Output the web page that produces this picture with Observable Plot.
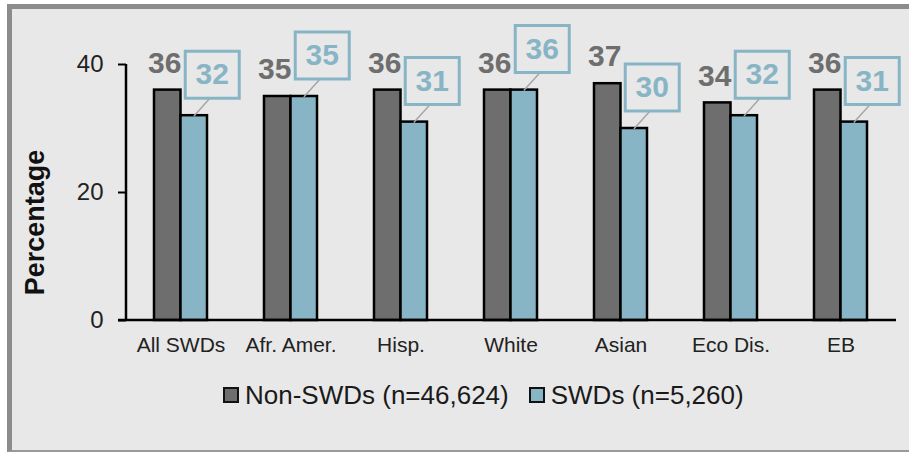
<!DOCTYPE html>
<html>
<head>
<meta charset="utf-8">
<script src="https://cdn.jsdelivr.net/npm/d3@7"></script>
<script src="https://cdn.jsdelivr.net/npm/@observablehq/plot@0.6"></script>
<style>
  html, body { margin: 0; padding: 0; background: #ffffff; }
  #wrap { position: relative; width: 909px; height: 456px; overflow: hidden; font-family: "Liberation Sans", Arial, sans-serif; }
  #frame { position: absolute; left: 7px; top: 4px; width: 920px; height: 441px; background: #e8e8e8;
           border-left: 5px solid #8c8c8c; border-top: 5px solid #8c8c8c; border-bottom: 2px solid #9a9a9a; }
  #chart { position: absolute; left: 0; top: 0; }
  #legend { position: absolute; left: 223px; top: 380px; height: 30px; font-size: 26px; color: #1a1a1a; display: flex; align-items: center; white-space: nowrap; }
  .sw { display: inline-block; box-sizing: border-box; width: 16px; height: 16px; border: 2px solid #111; margin-right: 6px; }
  .item { display: flex; align-items: center; margin-right: 20px; }
</style>
</head>
<body>
<div id="wrap">
  <div id="frame"></div>
  <div id="chart"></div>
  <div id="legend"></div>
</div>
<script>
const categories = ["All SWDs", "Afr. Amer.", "Hisp.", "White", "Asian", "Eco Dis.", "EB"];
const nonSWDs = [36, 35, 36, 36, 37, 34, 36];
const swds = [32, 35, 31, 36, 30, 32, 31];
const yTicks = [0, 20, 40];
const seriesNames = ["Non-SWDs (n=46,624)", "SWDs (n=5,260)"];
const seriesColors = ["#6e6e6e", "#88b5c6"];

const rows = categories.map((c, i) => ({cat: c, non: nonSWDs[i], swd: swds[i]}));

const boxSymbol = { draw(context) { context.rect(-27, -23.5, 54, 47); } };
const lineShape = { draw(context, l) { context.moveTo(0, 0); context.lineTo(0, -l); } };

const FONT = "Liberation Sans, Arial, sans-serif";
const half = 13.25;

const chart = Plot.plot({
  width: 909,
  height: 365,
  marginLeft: 126,
  marginRight: 13,
  marginTop: 64,
  marginBottom: 45,
  style: { background: "transparent", fontFamily: FONT, overflow: "visible" },
  x: { domain: categories, paddingInner: 0.518, paddingOuter: 0.259, label: null },
  y: { domain: [0, 40], label: null },
  marks: [
    Plot.axisY({ ticks: yTicks, tickSize: 8, tickPadding: 15, fontSize: 24, fill: "#222", stroke: "#000", strokeWidth: 2, label: null }),
    Plot.axisX({ tickSize: 0, tickPadding: 17, fontSize: 21, fill: "#222", label: null }),
    Plot.barY(rows, { x: "cat", y: "non", fill: seriesColors[0], stroke: "#000", strokeWidth: 2.5, insetRight: 26.5 }),
    Plot.barY(rows, { x: "cat", y: "swd", fill: seriesColors[1], stroke: "#000", strokeWidth: 2.5, insetLeft: 26.5 }),
    Plot.text(rows, { x: "cat", y: "non", text: d => String(d.non), dx: -half - 3, dy: -27, fontSize: 30, fontWeight: "bold", fill: "#6e6e6e" }),
    Plot.vector(rows, { x: "cat", y: "swd", dx: half, length: 23, rotate: 42, anchor: "start", shape: lineShape, stroke: "#a6a6a6", strokeWidth: 1.5 }),
    Plot.dot(rows, { x: "cat", y: "swd", dx: half + 18, dy: -41, symbol: boxSymbol, fill: "none", stroke: "#88b5c6", strokeWidth: 3 }),
    Plot.text(rows, { x: "cat", y: "swd", text: d => String(d.swd), dx: half + 18, dy: -41, fontSize: 30, fontWeight: "bold", fill: "#88b5c6" }),
    Plot.text(["Percentage"], { frameAnchor: "left", textAnchor: "middle", rotate: -90, dx: -91, dy: 30, fontSize: 27, fontWeight: "bold", fill: "#111" })
  ]
});
document.getElementById("chart").appendChild(chart);

// axis lines drawn with the plot's own y scale
const sy = chart.scale("y");
const svg = d3.select(chart);
const left = 126, right = 896;
svg.append("line").attr("x1", left).attr("x2", left).attr("y1", sy.apply(0)).attr("y2", sy.apply(40))
  .attr("stroke", "#000").attr("stroke-width", 2.5);
svg.append("line").attr("x1", left - 8).attr("x2", right).attr("y1", sy.apply(0)).attr("y2", sy.apply(0))
  .attr("stroke", "#000").attr("stroke-width", 2.5);

const legend = document.getElementById("legend");
seriesNames.forEach((n, i) => {
  const it = document.createElement("div");
  it.className = "item";
  const sw = document.createElement("span");
  sw.className = "sw";
  sw.style.background = seriesColors[i];
  const t = document.createElement("span");
  t.textContent = n;
  it.appendChild(sw); it.appendChild(t);
  legend.appendChild(it);
});
</script>
</body>
</html>
